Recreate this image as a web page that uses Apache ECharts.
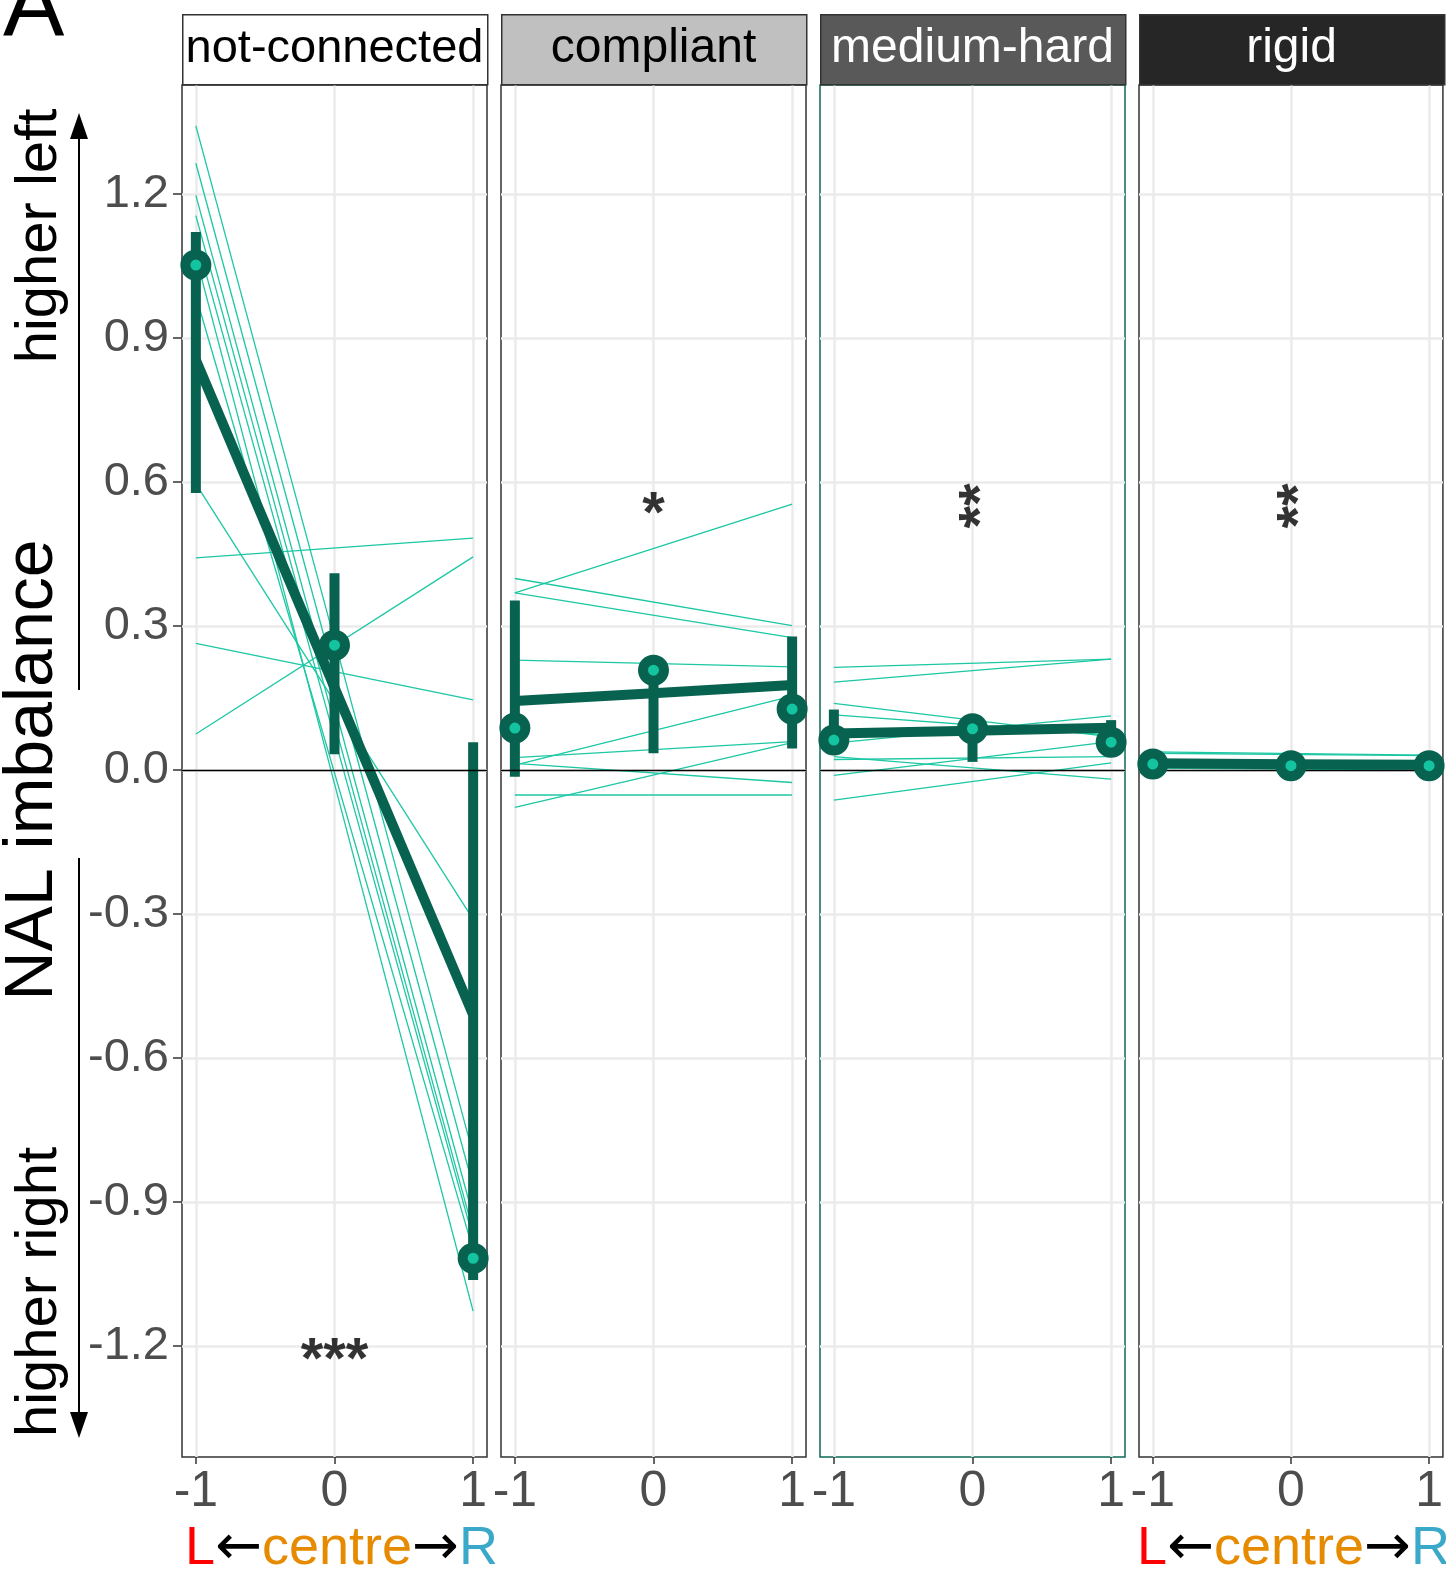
<!DOCTYPE html>
<html><head><meta charset="utf-8">
<script src="https://cdn.jsdelivr.net/npm/echarts@6/dist/echarts.min.js"></script>
<style>html,body{margin:0;padding:0;background:#fff}#c{width:1446px;height:1570px}</style>
</head><body><div id="c"></div>
<script>
// ---------- data ----------
const panels = ['not-connected', 'compliant', 'medium-hard', 'rigid'];
const xTicks = [-1, 0, 1];
const yTicks = [-1.2, -0.9, -0.6, -0.3, 0, 0.3, 0.6, 0.9, 1.2];

// individual subject lines: [value at x=-1, value at x=1]
const ncLines = [[1.342, -0.80], [1.264, -0.867], [1.197, -0.93], [1.155, -0.96], [1.11, -0.975], [0.988, -1.0], [1.07, -1.127], [0.596, -0.311], [0.442, 0.483], [0.264, 0.146], [0.075, 0.444]];
const compLines = [[0.369, 0.554], [0.399, 0.301], [0.369, 0.276], [0.229, 0.215], [0.010, 0.154], [0.026, 0.059], [0.014, -0.026], [-0.052, -0.052], [-0.078, 0.057]];
const medLines = [[0.214, 0.231], [0.183, 0.231], [0.139, 0.069], [0.115, 0.073], [0.056, 0.113], [0.022, 0.028], [0.028, -0.019], [-0.011, 0.059], [-0.0625, 0.015]];
const rigidLines = [[0.038, 0.031], [0.035, 0.030], [0.004, 0.000], [0.012, 0.012]];

// group means at x = -1, 0, 1
const ncMean = [1.052, 0.26, -1.017];
const compMean = [0.0875, 0.208, 0.127];
const medMean = [0.0625, 0.086, 0.058];
const rigidMean = [0.0125, 0.009, 0.009];

// error bar low / high at x = -1, 0, 1
const ncLo = [0.577, 0.033, -1.0625], ncHi = [1.121, 0.41, 0.058];
const compLo = [-0.014, 0.035, 0.045], compHi = [0.353, 0.23, 0.278];
const medLo = [0.04, 0.017, 0.05], medHi = [0.126, 0.10, 0.104];
const rigidLo = [0.004, 0.002, 0.002], rigidHi = [0.02, 0.016, 0.016];

// fitted trend at x = -1, 0, 1
const ncTrend = [0.854, 0.172, -0.51];
const compTrend = [0.144, 0.16, 0.177];
const medTrend = [0.076, 0.082, 0.088];
const rigidTrend = [0.014, 0.012, 0.011];

// significance labels
const sigText = ['***', '*', '**', '**'];
const sigY = [-1.2, 0.55, 0.55, 0.55];
const sigVertical = [false, false, true, true];

const allLines = [ncLines, compLines, medLines, rigidLines];
const allMean = [ncMean, compMean, medMean, rigidMean];
const allLo = [ncLo, compLo, medLo, rigidLo];
const allHi = [ncHi, compHi, medHi, rigidHi];
const allTrend = [ncTrend, compTrend, medTrend, rigidTrend];

// ---------- style / layout ----------
const FONT = '"Liberation Sans", Arial, Helvetica, sans-serif';
const ARROWFONT = '"DejaVu Sans", sans-serif';
const DARK = '#07634f';
const THIN = '#1cc7a3';
const INNER = '#14c3a0';
const gridLeft = [182, 501, 820, 1139];
const gridW = 305;
const gridTop = 85, gridH = 1372;
const stripFill = ['#ffffff', '#c0c0c0', '#595959', '#262626'];
const stripText = ['#000000', '#000000', '#ffffff', '#ffffff'];
const borderCol = ['#333333', '#333333', '#0d6b58', '#333333'];

const grids = [], xAxes = [], yAxes = [], series = [];
panels.forEach((p, i) => {
  grids.push({left: gridLeft[i], top: gridTop, width: gridW, height: gridH, show: true,
    borderColor: borderCol[i], borderWidth: 1.5, backgroundColor: 'transparent', containLabel: false});
  xAxes.push({type: 'value', gridIndex: i, min: -1.1, max: 1.1, position: 'bottom',
    axisLine: {show: false, onZero: false},
    axisTick: {show: true, length: 7, lineStyle: {color: '#333', width: 1.5}, customValues: xTicks},
    axisLabel: {show: true, customValues: xTicks, fontSize: 50, color: '#4d4d4d', fontFamily: FONT, margin: 10,
      formatter: v => String(v)},
    splitLine: {show: true, lineStyle: {color: '#ebebeb', width: 2.5}}});
  yAxes.push({type: 'value', gridIndex: i, min: -1.431, max: 1.427, position: 'left',
    axisLine: {show: false, onZero: false},
    axisTick: {show: i === 0, length: 9, lineStyle: {color: '#333', width: 1.5}, customValues: yTicks},
    axisLabel: {show: i === 0, customValues: yTicks, fontSize: 47, color: '#4d4d4d', fontFamily: FONT, margin: 13,
      formatter: v => v.toFixed(1)},
    splitLine: {show: true, lineStyle: {color: '#ebebeb', width: 2.5}}});

  // zero reference line
  series.push({type: 'line', xAxisIndex: i, yAxisIndex: i, data: [], silent: true, z: 1,
    markLine: {silent: true, symbol: 'none', label: {show: false}, lineStyle: {color: '#000', width: 1.4, type: 'solid'},
      data: [{yAxis: 0}]}});

  // subject lines
  allLines[i].forEach(l => {
    series.push({type: 'line', xAxisIndex: i, yAxisIndex: i, silent: true, z: 2,
      data: [[xTicks[0], l[0]], [xTicks[2], l[1]]], symbol: 'none',
      lineStyle: {color: THIN, width: 1.3}});
  });

  // error bars
  series.push({type: 'custom', xAxisIndex: i, yAxisIndex: i, silent: true, z: 3,
    data: xTicks.map((x, k) => [x, allLo[i][k], allHi[i][k]]),
    encode: {x: 0, y: [1, 2]},
    renderItem: (params, api) => {
      const top = api.coord([api.value(0), api.value(2)]);
      const bot = api.coord([api.value(0), api.value(1)]);
      const w = 10;
      return {type: 'rect', shape: {x: top[0] - w / 2, y: top[1], width: w, height: bot[1] - top[1]},
        style: {fill: DARK}};
    }});

  // trend line
  series.push({type: 'line', xAxisIndex: i, yAxisIndex: i, silent: true, z: 4,
    data: xTicks.map((x, k) => [x, allTrend[i][k]]), symbol: 'none',
    lineStyle: {color: DARK, width: 10, cap: 'butt', join: 'round'}});

  // means
  series.push({type: 'scatter', xAxisIndex: i, yAxisIndex: i, silent: true, z: 5,
    data: xTicks.map((x, k) => [x, allMean[i][k]]),
    symbol: 'circle', symbolSize: 21,
    itemStyle: {color: INNER, borderColor: DARK, borderWidth: 10, opacity: 1}});

  // significance label
  series.push({type: 'scatter', xAxisIndex: i, yAxisIndex: i, silent: true, z: 6,
    data: [[0, sigY[i]]], symbolSize: 1, itemStyle: {color: 'rgba(0,0,0,0)'},
    label: {show: true, position: 'inside', formatter: sigText[i], color: '#000', fontSize: 58, fontWeight: 'bold',
      fontFamily: FONT, rotate: sigVertical[i] ? 90 : 0,
      offset: sigVertical[i] ? [0, 10] : (i === 1 ? [0, 10] : [0, 16])}});
});

// ---------- graphics ----------
const graphic = [];
panels.forEach((p, i) => {
  graphic.push({type: 'rect', left: gridLeft[i], top: 14, shape: {width: gridW, height: 70},
    style: {fill: stripFill[i], stroke: '#333', lineWidth: 1.5}, z: 10});
  graphic.push({type: 'text', x: gridLeft[i] + gridW / 2, y: 49, z: 11,
    style: {text: p, fill: stripText[i], font: (i === 0 ? 47 : 48) + 'px ' + FONT,
      textAlign: 'center', textVerticalAlign: 'middle'}});
});
graphic.push({type: 'text', x: 3, y: 11, z: 11,
  style: {text: 'A', fill: '#000', font: '92px ' + FONT, textAlign: 'left', textVerticalAlign: 'middle'}});
graphic.push({type: 'text', x: 33, y: 770, rotation: Math.PI / 2, z: 11,
  style: {text: 'NAL imbalance', fill: '#000', font: '68px ' + FONT, textAlign: 'center', textVerticalAlign: 'middle'}});
graphic.push({type: 'text', x: 40, y: 236, rotation: Math.PI / 2, z: 11,
  style: {text: 'higher left', fill: '#000', font: '58px ' + FONT, textAlign: 'center', textVerticalAlign: 'middle'}});
graphic.push({type: 'text', x: 40, y: 1292, rotation: Math.PI / 2, z: 11,
  style: {text: 'higher right', fill: '#000', font: '58px ' + FONT, textAlign: 'center', textVerticalAlign: 'middle'}});
// arrows
graphic.push({type: 'line', shape: {x1: 79, y1: 135, x2: 79, y2: 690}, style: {stroke: '#000', lineWidth: 2}, z: 11});
graphic.push({type: 'polygon', shape: {points: [[79, 113], [70, 139], [88, 139]]}, style: {fill: '#000'}, z: 11});
graphic.push({type: 'line', shape: {x1: 79, y1: 858, x2: 79, y2: 1415}, style: {stroke: '#000', lineWidth: 2}, z: 11});
graphic.push({type: 'polygon', shape: {points: [[79, 1438], [70, 1412], [88, 1412]]}, style: {fill: '#000'}, z: 11});
// bottom direction labels
[185, 1137].forEach(x0 => {
  graphic.push({type: 'text', x: x0, y: 1549, z: 11,
    style: {text: '{l|L}{a|←}{c|centre}{a|→}{r|R}', textAlign: 'left', textVerticalAlign: 'middle',
      font: '54px ' + FONT,
      rich: {
        l: {fill: '#ff0000', font: '54px ' + FONT},
        a: {fill: '#000000', font: '56px ' + ARROWFONT},
        c: {fill: '#e68a00', font: '54px ' + FONT},
        r: {fill: '#3aa8c8', font: '54px ' + FONT}
      }}});
});

const chart = echarts.init(document.getElementById('c'), null, {renderer: 'canvas'});
chart.setOption({
  animation: false,
  backgroundColor: '#ffffff',
  textStyle: {fontFamily: FONT},
  grid: grids, xAxis: xAxes, yAxis: yAxes, series: series, graphic: graphic
});
</script></body></html>
